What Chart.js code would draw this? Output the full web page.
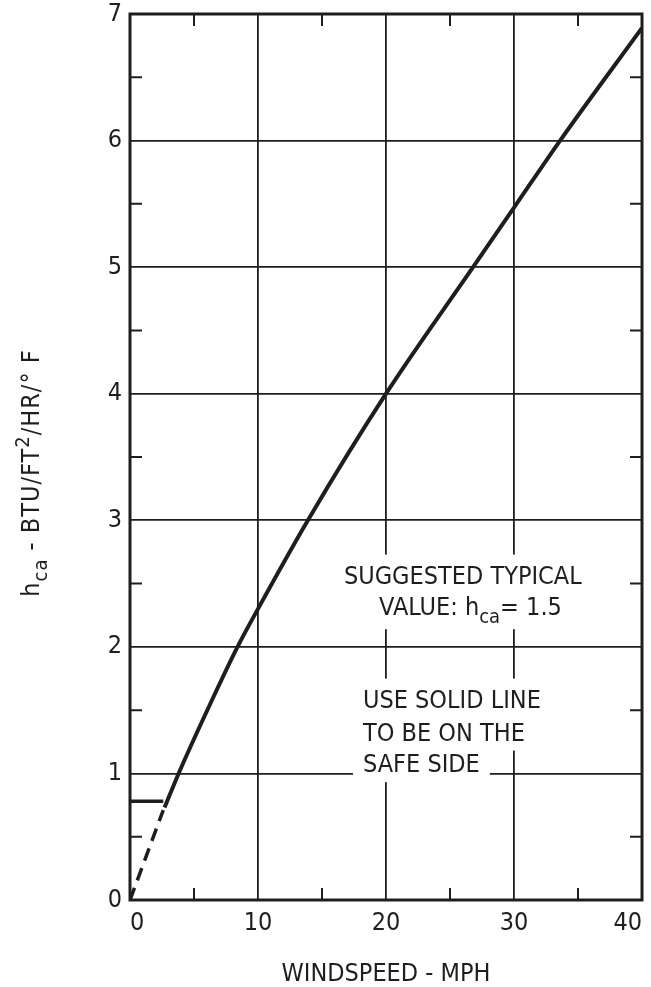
<!DOCTYPE html>
<html>
<head>
<meta charset="utf-8">
<script src="https://cdn.jsdelivr.net/npm/chart.js@4.4.1/dist/chart.umd.min.js"></script>
<style>
  html, body { margin: 0; padding: 0; background: #fff; }
  canvas { display: block; }
</style>
</head>
<body>
<canvas id="chart" width="651" height="987"></canvas>
<script>
/* DATA */
const curveSpeed = [2.7, 3.8, 6.5, 8.4, 10, 13.9, 20, 26.8, 30, 33.6, 40];
const curveH = [0.73, 1.0, 1.6, 2.0, 2.3, 3.0, 4.0, 5.0, 5.47, 6.0, 6.89];
const dashSpeed = [0, 2.6];
const dashH = [0, 0.71];
const typicalSpeed = [0, 2.6];
const typicalH = [0.78, 0.78];
const xTicks = [0, 10, 20, 30, 40];
const yTicks = [0, 1, 2, 3, 4, 5, 6, 7];
const xMinor = [5, 15, 25, 35];
const yMinor = [0.5, 1.5, 2.5, 3.5, 4.5, 5.5, 6.5];

const FONT = "'Liberation Sans Narrow', 'DejaVu Sans Condensed', 'Liberation Sans', sans-serif";
const INK = "#1e1e1e";

const pts = (xs, ys) => xs.map((x, i) => ({ x, y: ys[i] }));

/* NOTES (anchored in data units) */
const notes = [
  { x: 26.0, y: 2.50, align: "center", runs: [{ t: "SUGGESTED TYPICAL" }] },
  { x: 26.6, y: 2.25, align: "center", runs: [{ t: "VALUE: h" }, { t: "ca", sub: true }, { t: "= 1.5" }] },
  { x: 18.2, y: 1.52, align: "left", runs: [{ t: "USE SOLID LINE" }] },
  { x: 18.2, y: 1.26, align: "left", runs: [{ t: "TO BE ON THE" }] },
  { x: 18.2, y: 1.01, align: "left", runs: [{ t: "SAFE SIDE" }] }
];
const yTitle = [{ t: "h" }, { t: "ca", sub: true }, { t: " - BTU/FT" }, { t: "2", sup: true }, { t: "/HR/° F" }];

function runSize(r, size) {
  return (r.sub || r.sup) ? Math.round(size * 0.8) : size;
}

function runsWidth(ctx, runs, size) {
  let w = 0;
  runs.forEach(r => {
    ctx.font = `${runSize(r, size)}px ${FONT}`;
    w += ctx.measureText(r.t).width;
  });
  return w;
}

function drawRuns(ctx, runs, x, y, size) {
  let cx = x;
  runs.forEach(r => {
    ctx.font = `${runSize(r, size)}px ${FONT}`;
    const dy = r.sub ? size * 0.32 : r.sup ? -size * 0.42 : 0;
    ctx.fillText(r.t, cx, y + dy);
    cx += ctx.measureText(r.t).width;
  });
}

const framePlugin = {
  id: "frame",
  afterDraw(chart) {
    const { ctx, chartArea: { left, right, top, bottom }, scales: { x, y } } = chart;
    ctx.save();
    ctx.strokeStyle = INK;
    ctx.fillStyle = INK;

    /* minor ticks, pointing inward */
    ctx.lineWidth = 2;
    ctx.beginPath();
    xMinor.forEach(v => {
      const px = x.getPixelForValue(v);
      ctx.moveTo(px, bottom); ctx.lineTo(px, bottom - 12);
      ctx.moveTo(px, top); ctx.lineTo(px, top + 12);
    });
    yMinor.forEach(v => {
      const py = y.getPixelForValue(v);
      ctx.moveTo(left, py); ctx.lineTo(left + 12, py);
      ctx.moveTo(right, py); ctx.lineTo(right - 12, py);
    });
    ctx.stroke();

    /* frame */
    ctx.lineWidth = 3;
    ctx.strokeRect(left, top, right - left, bottom - top);

    /* notes with white backing */
    const size = 25;
    ctx.letterSpacing = "0px";
    ctx.textBaseline = "alphabetic";
    ctx.textAlign = "left";
    notes.forEach(n => {
      const w = runsWidth(ctx, n.runs, size);
      const bx = x.getPixelForValue(n.x);
      const by = y.getPixelForValue(n.y);
      const sx = n.align === "center" ? bx - w / 2 : bx;
      const hasSub = n.runs.some(r => r.sub);
      ctx.fillStyle = "#fff";
      ctx.fillRect(sx - 10, by - 29, w + 20, 39 + (hasSub ? 4 : 0));
      ctx.fillStyle = INK;
      drawRuns(ctx, n.runs, sx, by, size);
    });

    /* y axis title, rotated */
    ctx.letterSpacing = "1px";
    const tw = runsWidth(ctx, yTitle, size);
    const cy = (top + bottom) / 2 + 16;
    ctx.translate(39, cy);
    ctx.rotate(-Math.PI / 2);
    drawRuns(ctx, yTitle, -tw / 2, 0, size);
    ctx.restore();
  }
};

const ctx = document.getElementById("chart");

new Chart(ctx, {
  type: "line",
  data: {
    datasets: [
      {
        data: pts(curveSpeed, curveH),
        borderColor: INK,
        borderWidth: 4,
        pointRadius: 0,
        cubicInterpolationMode: "monotone"
      },
      {
        data: pts(dashSpeed, dashH),
        borderColor: INK,
        borderWidth: 3.5,
        borderDash: [13, 8],
        pointRadius: 0
      },
      {
        data: pts(typicalSpeed, typicalH),
        borderColor: INK,
        borderWidth: 3.5,
        pointRadius: 0
      }
    ]
  },
  options: {
    responsive: false,
    animation: false,
    devicePixelRatio: 1,
    layout: { padding: { top: 14, right: 9, left: 0, bottom: 0 } },
    plugins: { legend: { display: false }, tooltip: { enabled: false } },
    scales: {
      x: {
        type: "linear",
        min: 0,
        max: 40,
        afterBuildTicks: s => { s.ticks = xTicks.map(v => ({ value: v })); },
        afterFit: s => { s.height = 87; s.paddingLeft = 0; s.paddingRight = 0; },
        ticks: {
          color: INK,
          padding: 8,
          align: "inner",
          font: { family: FONT, size: 25 }
        },
        grid: { color: INK, lineWidth: 1.8, drawTicks: false },
        border: { display: false },
        title: {
          display: true,
          text: "WINDSPEED - MPH",
          color: INK,
          padding: { top: 0, bottom: 0 },
          font: { family: FONT, size: 25, lineHeight: 1 }
        }
      },
      y: {
        type: "linear",
        min: 0,
        max: 7,
        afterBuildTicks: s => { s.ticks = yTicks.map(v => ({ value: v })); },
        afterFit: s => { s.width = 130; s.paddingTop = 0; s.paddingBottom = 0; },
        ticks: {
          color: INK,
          padding: 8,
          align: "inner",
          font: { family: FONT, size: 25 }
        },
        grid: { color: INK, lineWidth: 1.8, drawTicks: false },
        border: { display: false }
      }
    }
  },
  plugins: [framePlugin]
});
</script>
</body>
</html>
